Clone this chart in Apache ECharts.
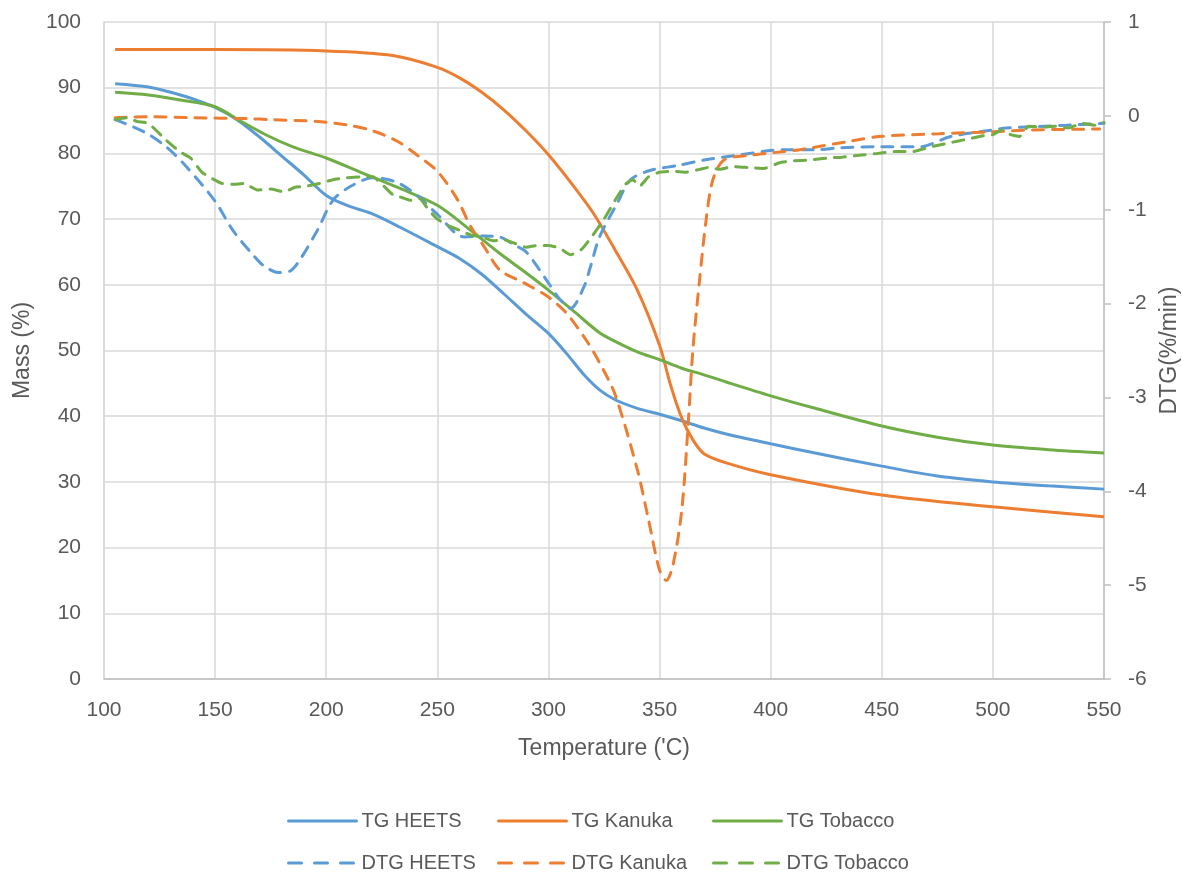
<!DOCTYPE html>
<html>
<head>
<meta charset="utf-8">
<script src="https://cdn.jsdelivr.net/npm/echarts@6/dist/echarts.min.js"></script>
<style>
  html, body { margin: 0; padding: 0; background: #fff; }
  #chart { width: 1182px; height: 877px; }
</style>
</head>
<body>
<div id="chart"></div>
<script>
// data
const tgHeetsT = [105,120,130,140,150,160,170,180,190,200,210,220,233,250,260,270,280,290,300,308,316,323,330,340,350,360,370,380,400,420,450,475,500,525,550];
const tgHeetsM = [90.6,90.1,89.3,88.3,87.0,85.1,82.5,79.6,76.7,73.6,72.0,70.9,68.8,65.8,64.0,61.6,58.6,55.5,52.6,49.6,46.3,44.0,42.5,41.2,40.3,39.3,38.2,37.3,35.8,34.4,32.4,30.9,30.0,29.4,28.9];

const tgKanukaT = [105,150,200,230,250,260,270,280,290,300,310,320,330,340,350,355,360,365,370,380,400,450,500,550];
const tgKanukaM = [95.8,95.8,95.6,94.9,93.1,91.5,89.3,86.6,83.4,79.8,75.6,71.0,65.3,59.2,50.8,44.7,39.7,36.4,34.3,32.9,31.1,28.0,26.2,24.7];

const tgTobaccoT = [105,120,135,150,160,173,185,200,215,233,250,265,278,290,300,312,323,330,340,350,360,370,380,400,420,450,475,500,525,550];
const tgTobaccoM = [89.3,88.9,88.1,87.1,85.2,82.8,81.0,79.3,77.2,74.7,72.1,68.3,64.8,61.8,59.2,55.8,52.7,51.4,49.8,48.6,47.3,46.3,45.2,43.1,41.2,38.5,36.8,35.6,34.9,34.4];

const dtgHeetsT = [105,118,128,137,150,158,167,172,179,184,188,196,203,211,221,232,242,250,262,271,278,285,290,300,305,310,316,319,323,331,337,346,358,370,385,406,421,431,449,467,481,500,506,533,550];
const dtgHeetsD = [-0.04,-0.17,-0.33,-0.54,-0.91,-1.22,-1.48,-1.6,-1.67,-1.65,-1.54,-1.22,-0.9,-0.75,-0.66,-0.71,-0.87,-1.05,-1.29,-1.28,-1.29,-1.38,-1.45,-1.78,-1.95,-2.05,-1.82,-1.6,-1.29,-0.93,-0.68,-0.58,-0.53,-0.47,-0.42,-0.36,-0.36,-0.34,-0.33,-0.33,-0.22,-0.15,-0.13,-0.1,-0.08];

const dtgKanukaT = [105,120,140,165,175,196,210,221,232,241,250,259,265,271,278,289,300,308,317,323,330,340,345,350,353,356,360,363,365,368,371,374,379,391,406,413,436,449,476,500,518,548];
const dtgKanukaD = [-0.02,-0.01,-0.02,-0.03,-0.04,-0.06,-0.1,-0.16,-0.27,-0.42,-0.59,-0.89,-1.18,-1.39,-1.64,-1.78,-1.93,-2.1,-2.39,-2.63,-2.97,-3.77,-4.3,-4.84,-4.95,-4.79,-4.2,-3.24,-2.49,-1.75,-1.1,-0.68,-0.47,-0.42,-0.38,-0.36,-0.27,-0.22,-0.19,-0.17,-0.15,-0.14];

const dtgTobaccoT = [105,110,115,120,128,134,139,144,148,153,158,163,169,175,181,186,191,197,203,209,215,221,226,230,234,238,242,246,250,255,260,265,270,275,280,285,290,295,300,305,310,315,320,325,330,335,338,341,345,350,356,362,368,372,377,383,390,397,404,410,418,425,432,440,448,456,464,472,480,488,496,500,504,508,512,516,522,528,534,540,546,550];
const dtgTobaccoD = [-0.04,-0.02,-0.06,-0.08,-0.26,-0.38,-0.45,-0.6,-0.66,-0.72,-0.73,-0.72,-0.79,-0.78,-0.81,-0.76,-0.75,-0.72,-0.68,-0.66,-0.65,-0.65,-0.75,-0.84,-0.87,-0.9,-0.88,-1.0,-1.1,-1.17,-1.22,-1.27,-1.29,-1.33,-1.32,-1.36,-1.40,-1.38,-1.38,-1.41,-1.48,-1.42,-1.27,-1.1,-0.9,-0.72,-0.68,-0.75,-0.65,-0.6,-0.59,-0.6,-0.57,-0.55,-0.57,-0.54,-0.55,-0.56,-0.5,-0.48,-0.47,-0.45,-0.44,-0.42,-0.4,-0.38,-0.38,-0.33,-0.29,-0.25,-0.21,-0.2,-0.15,-0.2,-0.22,-0.11,-0.12,-0.11,-0.13,-0.08,-0.1,-0.07];

const BLUE = '#5b9bd5';
const ORANGE = '#ed7d31';
const GREEN = '#70ad47';
const FONT = 'Liberation Sans';
const TEXT = '#595959';

const zip = (t, v) => t.map((x, i) => [x, v[i]]);

const tgLine = (name, color, t, v) => ({
    name: name,
    type: 'line',
    yAxisIndex: 0,
    data: zip(t, v),
    smooth: 0.3,
    symbol: 'none',
    lineStyle: { color: color, width: 3 },
    itemStyle: { color: color }
});

const dtgLine = (name, color, t, v, smooth) => ({
    name: name,
    type: 'line',
    yAxisIndex: 1,
    data: zip(t, v),
    smooth: smooth,
    symbol: 'none',
    lineStyle: { color: color, width: 3, type: [11, 9], cap: 'round' },
    itemStyle: { color: color }
});

// one legend per column, two rows each
const legendCol = (left, solidName, dashName) => ({
    orient: 'vertical',
    left: left,
    top: 806,
    height: 70,
    itemGap: 22,
    itemWidth: 68,
    itemHeight: 14,
    data: [
        { name: solidName },
        { name: dashName, lineStyle: { type: [13, 13], cap: 'round', width: 3 } }
    ],
    itemStyle: { opacity: 0 },
    lineStyle: { width: 3, cap: 'round' },
    textStyle: { fontFamily: FONT, fontSize: 20, lineHeight: 20, color: TEXT, padding: [0, 0, 0, 0] }
});

const getOption = () => {
    return {
        animation: false,
        backgroundColor: '#fff',
        grid: { left: 104, right: 78, top: 22, bottom: 198, containLabel: false, outerBoundsMode: 'none' },
        legend: [
            legendCol(282, 'TG HEETS', 'DTG HEETS'),
            legendCol(492, 'TG Kanuka', 'DTG Kanuka'),
            legendCol(707, 'TG Tobacco', 'DTG Tobacco')
        ],
        xAxis: {
            type: 'value',
            min: 100,
            max: 550,
            interval: 50,
            name: "Temperature ('C)",
            nameLocation: 'middle',
            nameGap: 58,
            nameTextStyle: { fontFamily: FONT, fontSize: 23, color: TEXT },
            axisLine: { lineStyle: { color: '#bfbfbf', width: 1.5 } },
            axisTick: { show: false },
            axisLabel: { fontFamily: FONT, fontSize: 21, color: TEXT, margin: 21 },
            splitLine: { lineStyle: { color: '#d9d9d9', width: 1.5 } }
        },
        yAxis: [
            {
                type: 'value',
                min: 0,
                max: 100,
                interval: 10,
                name: 'Mass (%)',
                nameLocation: 'middle',
                nameGap: 70,
                nameTextStyle: { fontFamily: FONT, fontSize: 23, color: TEXT },
                axisLine: { show: true, lineStyle: { color: '#d9d9d9', width: 1.5 } },
                axisTick: { show: false },
                axisLabel: { fontFamily: FONT, fontSize: 21, color: TEXT, margin: 23 },
                splitLine: { lineStyle: { color: '#d9d9d9', width: 1.5 } }
            },
            {
                type: 'value',
                min: -6,
                max: 1,
                interval: 1,
                position: 'right',
                name: 'DTG(%/min)',
                nameLocation: 'middle',
                nameGap: 54,
                nameTextStyle: { fontFamily: FONT, fontSize: 23, color: TEXT },
                axisLine: { show: true, lineStyle: { color: '#bfbfbf', width: 1.5 } },
                axisTick: { show: true, length: 7, lineStyle: { color: '#bfbfbf', width: 1.5 } },
                axisLabel: { fontFamily: FONT, fontSize: 21, color: TEXT, margin: 24 },
                splitLine: { show: false }
            }
        ],
        series: [
            tgLine('TG HEETS', BLUE, tgHeetsT, tgHeetsM),
            tgLine('TG Kanuka', ORANGE, tgKanukaT, tgKanukaM),
            tgLine('TG Tobacco', GREEN, tgTobaccoT, tgTobaccoM),
            dtgLine('DTG HEETS', BLUE, dtgHeetsT, dtgHeetsD, 0.3),
            dtgLine('DTG Kanuka', ORANGE, dtgKanukaT, dtgKanukaD, 0.3),
            dtgLine('DTG Tobacco', GREEN, dtgTobaccoT, dtgTobaccoD, 0.15)
        ]
    };
};

let chart;
function initChart(){
    chart = echarts.init(document.getElementById('chart'));
    chart.setOption(getOption());
}

document.addEventListener('DOMContentLoaded', function(){
    initChart();
});
</script>
</body>
</html>
